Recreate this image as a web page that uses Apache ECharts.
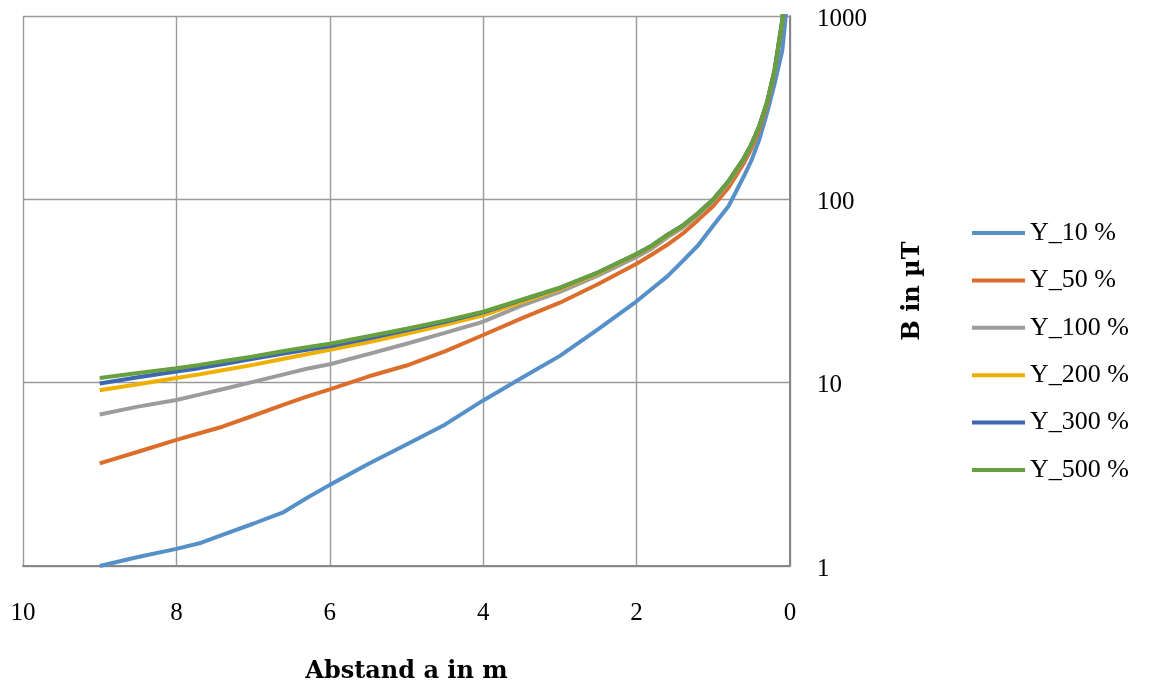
<!DOCTYPE html>
<html>
<head>
<meta charset="utf-8">
<script src="https://cdn.jsdelivr.net/npm/echarts@6/dist/echarts.min.js"></script>
<style>
html,body{margin:0;padding:0;background:#fff;}
#chart{width:1151px;height:686px;}
</style>
</head>
<body>
<div id="chart"></div>
<script>
// Distance a in m
var distances = [9, 8.5, 8, 7.7, 7.4, 7, 6.6, 6.3, 6, 5.5, 5, 4.5, 4, 3.5, 3, 2.5, 2, 1.8, 1.6, 1.4, 1.2, 1.0, 0.8, 0.6, 0.5, 0.4, 0.3, 0.2, 0.1, 0.05];
// B in µT
var y10  = [1.0, 1.12, 1.24, 1.33, 1.48, 1.70, 1.97, 2.35, 2.77, 3.6, 4.6, 5.9, 8.0, 10.6, 14.0, 19.6, 27.8, 32.5, 38, 46, 56, 72, 92, 134, 164, 212, 295, 428, 650, 1050];
var y50  = [3.63, 4.2, 4.87, 5.3, 5.75, 6.6, 7.6, 8.4, 9.2, 10.8, 12.4, 14.8, 18.2, 22.4, 27.3, 34.5, 44.5, 50, 56.5, 65, 77, 92, 116, 158, 190, 240, 325, 495, 920, 1800];
var y100 = [6.7, 7.4, 8.05, 8.6, 9.2, 10.1, 11.1, 11.9, 12.6, 14.3, 16.3, 18.7, 21.5, 26.3, 31.3, 38.5, 48.5, 54, 62, 70, 82, 98, 123, 165, 198, 249, 334, 505, 940, 1850];
var y200 = [9.1, 9.8, 10.6, 11.1, 11.7, 12.5, 13.5, 14.3, 15.1, 16.6, 18.5, 20.7, 23.3, 27.5, 32.4, 39.5, 50, 55.5, 63.5, 71.5, 83.5, 99.5, 125, 167, 200, 251, 337, 508, 945, 1880];
var y300 = [9.9, 10.7, 11.5, 12.0, 12.6, 13.5, 14.4, 15.1, 15.8, 17.4, 19.3, 21.5, 24.2, 28.2, 32.9, 40, 50.3, 56, 64, 72, 84, 100, 126, 168, 201, 252, 338, 510, 950, 1900];
var y500 = [10.6, 11.3, 12.0, 12.5, 13.1, 13.9, 14.9, 15.6, 16.3, 17.9, 19.7, 21.8, 24.4, 28.4, 33, 40, 50.5, 56, 64, 72, 84, 100, 126, 168, 201, 252, 338, 510, 950, 1900];
var seriesNames = ['Y_10 %', 'Y_50 %', 'Y_100 %', 'Y_200 %', 'Y_300 %', 'Y_500 %'];
var seriesValues = [y10, y50, y100, y200, y300, y500];
var colors = ['#5590C8', '#DC6E2B', '#9C9C9C', '#EFB000', '#3F66B3', '#67A13F'];
var xTicks = [0, 2, 4, 6, 8, 10];
var yTicks = [1, 10, 100, 1000];

var FONT = '"Liberation Serif", "DejaVu Serif", serif';
var TITLE_FONT = '"DejaVu Serif", "Liberation Serif", serif';

var chart = echarts.init(document.getElementById('chart'), null, {renderer: 'canvas'});
var series = seriesNames.map(function (name, i) {
  return {
    name: name,
    type: 'line',
    data: distances.map(function (d, j) { return [d, seriesValues[i][j]]; }),
    symbol: 'none',
    smooth: false,
    clip: true,
    lineStyle: {width: 4, color: colors[i]},
    itemStyle: {color: colors[i]},
    z: 2 + i
  };
});

chart.setOption({
  animation: false,
  backgroundColor: '#ffffff',
  textStyle: {fontFamily: FONT},
  grid: {left: 23, right: 361, top: 16, bottom: 120, containLabel: false, outerBoundsMode: 'none'},
  legend: {
    orient: 'vertical',
    left: 972,
    top: 220,
    padding: 0,
    icon: 'rect',
    itemWidth: 53,
    itemHeight: 4,
    itemGap: 21.4,
    textStyle: {fontFamily: FONT, fontSize: 26, color: '#000'},
    data: seriesNames
  },
  xAxis: {
    type: 'value',
    inverse: true,
    min: 0,
    max: 10,
    interval: 2,
    name: 'Abstand a in m',
    nameLocation: 'middle',
    nameGap: 94,
    nameTextStyle: {fontFamily: TITLE_FONT, fontSize: 24, fontWeight: 'bold', color: '#000'},
    axisLine: {show: true, lineStyle: {color: '#878787', width: 2}},
    axisTick: {show: false},
    axisLabel: {
      fontFamily: FONT, fontSize: 25, color: '#000', margin: 35,
      formatter: function (v) { return xTicks.indexOf(v) >= 0 ? String(v) : ''; }
    },
    splitLine: {show: true, lineStyle: {color: '#9a9a9a', width: 1.4}}
  },
  yAxis: {
    type: 'log',
    logBase: 10,
    position: 'right',
    min: 1,
    max: 1000,
    name: 'B in µT',
    nameLocation: 'middle',
    nameGap: 111,
    nameRotate: 90,
    nameTextStyle: {fontFamily: TITLE_FONT, fontSize: 24, fontWeight: 'bold', color: '#000'},
    axisLine: {show: true, onZero: false, lineStyle: {color: '#878787', width: 2}},
    axisTick: {show: false},
    axisLabel: {
      fontFamily: FONT, fontSize: 25, color: '#000', margin: 27,
      verticalAlign: 'top', lineHeight: 6,
      formatter: function (v) { return yTicks.indexOf(Math.round(v)) >= 0 ? String(Math.round(v)) : ''; }
    },
    splitLine: {show: true, lineStyle: {color: '#9a9a9a', width: 1.4}}
  },
  series: series
});
</script>
</body>
</html>
